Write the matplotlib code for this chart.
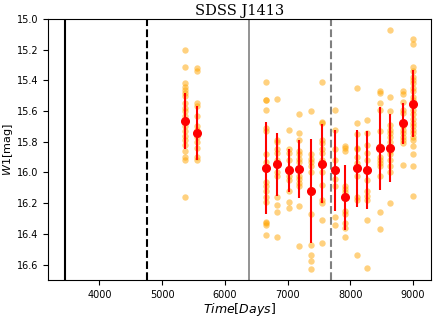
#!/usr/bin/env python3

import matplotlib
matplotlib.use("Agg")
import matplotlib.pyplot as plt

# epoch dates (days) of the WISE / NEOWISE visits
epoch_days = [5369, 5560, 6659, 6834, 7020, 7190, 7381, 7546,
              7753, 7917, 8113, 8273, 8479, 8638, 8841, 9000]

# single exposures in each visit (W1 mag)
epoch_mags = [
    [15.20, 15.31, 15.42, 15.44, 15.46, 15.48, 15.50, 15.55, 15.58, 15.60,
     15.63, 15.67, 15.70, 15.73, 15.76, 15.79, 15.82, 15.86, 15.90, 15.92, 16.16],
    [15.32, 15.34, 15.55, 15.57, 15.63, 15.70, 15.72, 15.74, 15.77, 15.80,
     15.84, 15.90, 15.92],
    [15.41, 15.53, 15.53, 15.59, 15.71, 15.73, 15.88, 15.93, 15.97, 16.06,
     16.09, 16.12, 16.16, 16.19, 16.32, 16.33, 16.34, 16.41],
    [15.52, 15.79, 15.80, 15.85, 15.87, 15.92, 15.95, 16.00, 16.02, 16.16,
     16.21, 16.26, 16.42],
    [15.72, 15.85, 15.87, 15.92, 15.97, 16.02, 16.05, 16.12, 16.19, 16.23],
    [15.62, 15.74, 15.79, 15.86, 15.88, 15.91, 15.93, 15.97, 16.02, 16.04,
     16.07, 16.09, 16.22, 16.48],
    [15.60, 15.88, 15.91, 15.93, 15.96, 16.00, 16.12, 16.27, 16.47, 16.54,
     16.58, 16.63],
    [15.41, 15.67, 15.68, 15.79, 15.81, 15.85, 15.87, 15.92, 15.94, 16.00,
     16.08, 16.18, 16.20, 16.31, 16.46],
    [15.59, 15.72, 15.85, 15.92, 15.98, 16.04, 16.09, 16.29, 16.34],
    [15.83, 15.84, 15.86, 16.09, 16.11, 16.13, 16.16, 16.25, 16.27, 16.33,
     16.36, 16.42],
    [15.45, 15.68, 15.75, 15.84, 15.85, 15.90, 15.94, 15.97, 16.02, 16.16,
     16.18, 16.54],
    [15.66, 15.74, 15.82, 15.87, 15.92, 15.98, 16.05, 16.12, 16.15, 16.18,
     16.31, 16.62],
    [15.47, 15.48, 15.55, 15.59, 15.73, 15.83, 15.90, 15.92, 15.94, 15.96,
     16.02, 16.26, 16.37],
    [15.07, 15.51, 15.60, 15.69, 15.72, 15.74, 15.77, 15.80, 15.84, 15.86,
     15.88, 15.92, 15.96, 16.00, 16.20],
    [15.47, 15.49, 15.54, 15.59, 15.61, 15.68, 15.70, 15.72, 15.74, 15.77,
     15.79, 15.81, 15.95],
    [15.13, 15.16, 15.31, 15.34, 15.38, 15.40, 15.42, 15.45, 15.47, 15.51,
     15.53, 15.55, 15.59, 15.62, 15.65, 15.68, 15.70, 15.72, 15.74, 15.77,
     15.79, 15.83, 15.88, 15.96, 16.15],
]

# binned mean and scatter per visit
mean_mag = [15.666, 15.744, 15.971, 15.947, 15.986, 15.978, 16.119, 15.943,
            15.986, 16.162, 15.973, 15.982, 15.843, 15.843, 15.679, 15.551]
mean_err = [0.182, 0.176, 0.298, 0.205, 0.141, 0.190, 0.340, 0.256,
            0.266, 0.210, 0.250, 0.254, 0.271, 0.222, 0.134, 0.221]

# marker lines
solid_black = 3450
dashed_black = 4760
solid_gray = 6390
dashed_gray = 7700


def main():
    fig = plt.figure(figsize=(4.36, 3.17), dpi=100)
    ax = fig.add_axes([0.110, 0.117, 0.879, 0.823])

    ax.axvline(solid_black, color="black", lw=1.5)
    ax.axvline(dashed_black, color="black", lw=1.5, ls="--")
    ax.axvline(solid_gray, color="gray", lw=1.2)
    ax.axvline(dashed_gray, color="gray", lw=1.5, ls="--")

    for d, mags in zip(epoch_days, epoch_mags):
        ax.plot([d] * len(mags), mags, "o", color="orange", alpha=0.5,
                ms=4.6, mec="none")

    ax.errorbar(epoch_days, mean_mag, yerr=mean_err, fmt="o", color="red",
                ms=5.5, elinewidth=1.5, capsize=0)

    ax.set_xlim(3180, 9290)
    ax.set_ylim(16.7, 15.0)
    ax.set_yticks([15.0, 15.2, 15.4, 15.6, 15.8, 16.0, 16.2, 16.4, 16.6])
    ax.set_xticks([4000, 5000, 6000, 7000, 8000, 9000])
    ax.tick_params(labelsize=7)

    ax.set_title("SDSS J1413", family="DejaVu Serif", fontsize=10.5, pad=3)
    ax.set_xlabel("$Time[Days]$", fontsize=9, labelpad=1)
    ax.set_ylabel("$W1$[mag]", fontsize=8, labelpad=1)

    fig.savefig("out.png", dpi=100)


if __name__ == "__main__":
    main()
